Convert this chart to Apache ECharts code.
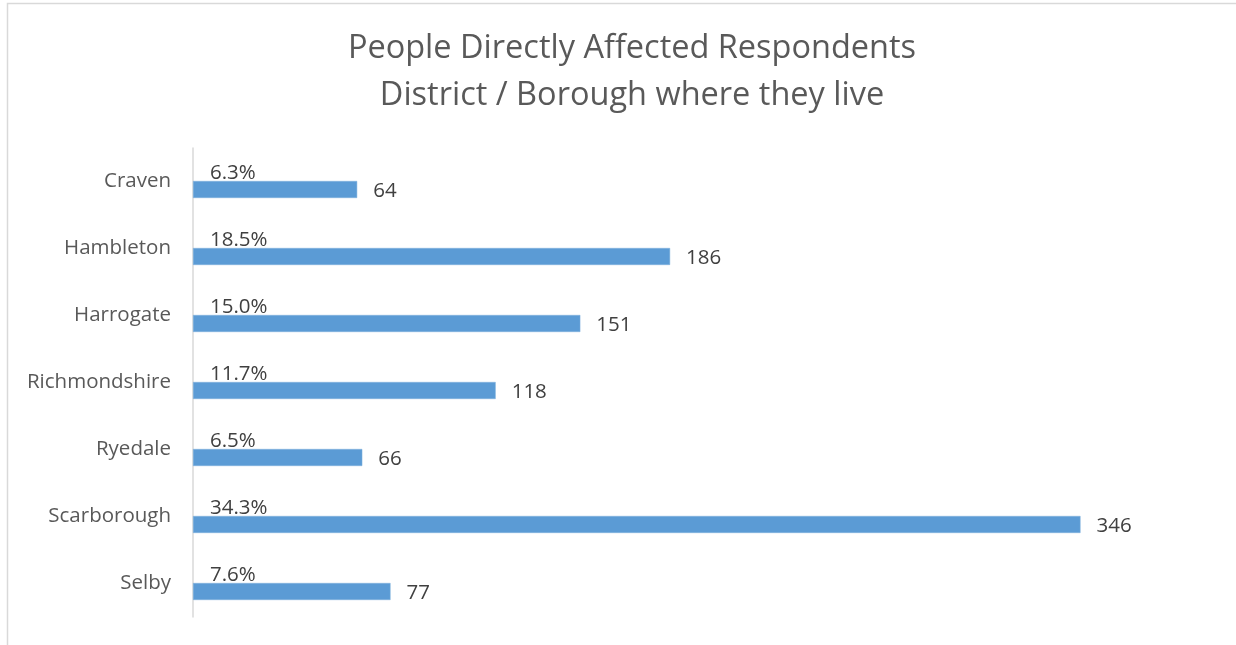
<!DOCTYPE html>
<html><head><meta charset="utf-8">
<script src="https://cdn.jsdelivr.net/npm/echarts@6/dist/echarts.min.js"></script>
<style>html,body{margin:0;padding:0;background:#fff}#c{width:1236px;height:645px}</style>
</head><body><div id="c"></div>
<script>
const categories = ["Craven","Hambleton","Harrogate","Richmondshire","Ryedale","Scarborough","Selby"];
const counts = [64,186,151,118,66,346,77];
const percents = ["6.3%","18.5%","15.0%","11.7%","6.5%","34.3%","7.6%"];
const titleLines = ["People Directly Affected Respondents","District / Borough where they live"];

const FONT = "'Open Sans', sans-serif";
const chart = echarts.init(document.getElementById('c'));
chart.setOption({
  animation:false,
  backgroundColor:'#fff',
  textStyle:{fontFamily:FONT},
  title:{
    text:titleLines.join('\n'),
    left:627, textAlign:'center', top:20,
    textStyle:{fontFamily:FONT,fontSize:32.5,fontWeight:'normal',color:'#595959',lineHeight:47}
  },
  graphic:[{type:'rect',shape:{x:7.5,y:3.5,width:1400,height:800},style:{fill:null,stroke:'#d9d9d9',lineWidth:1.5},silent:true}],
  grid:{left:193,right:17,top:148,bottom:28,containLabel:false},
  xAxis:{type:'value',min:0,max:400,show:false,splitLine:{show:false}},
  yAxis:{type:'category',data:categories,inverse:true,
    axisLine:{show:true,lineStyle:{color:'#d9d9d9',width:1.5}},
    axisTick:{show:false},
    axisLabel:{fontFamily:FONT,fontSize:20.5,color:'#595959',margin:22}
  },
  series:[
    {type:'bar',data:counts,barWidth:17,silent:true,
      itemStyle:{color:'rgba(0,0,0,0)'},
      label:{show:true,position:[17,19],verticalAlign:'bottom',align:'left',
        formatter:p=>percents[p.dataIndex],fontFamily:FONT,fontSize:20.5,color:'#404040'}
    },
    {type:'bar',data:counts,barWidth:17,barGap:'-6%',
      itemStyle:{color:'#5B9BD5',borderColor:'#7fb0dd',borderWidth:0.5},
      label:{show:true,position:'right',distance:16,offset:[0,2],fontFamily:FONT,fontSize:20.5,color:'#404040'}
    }
  ]
});
</script></body></html>
